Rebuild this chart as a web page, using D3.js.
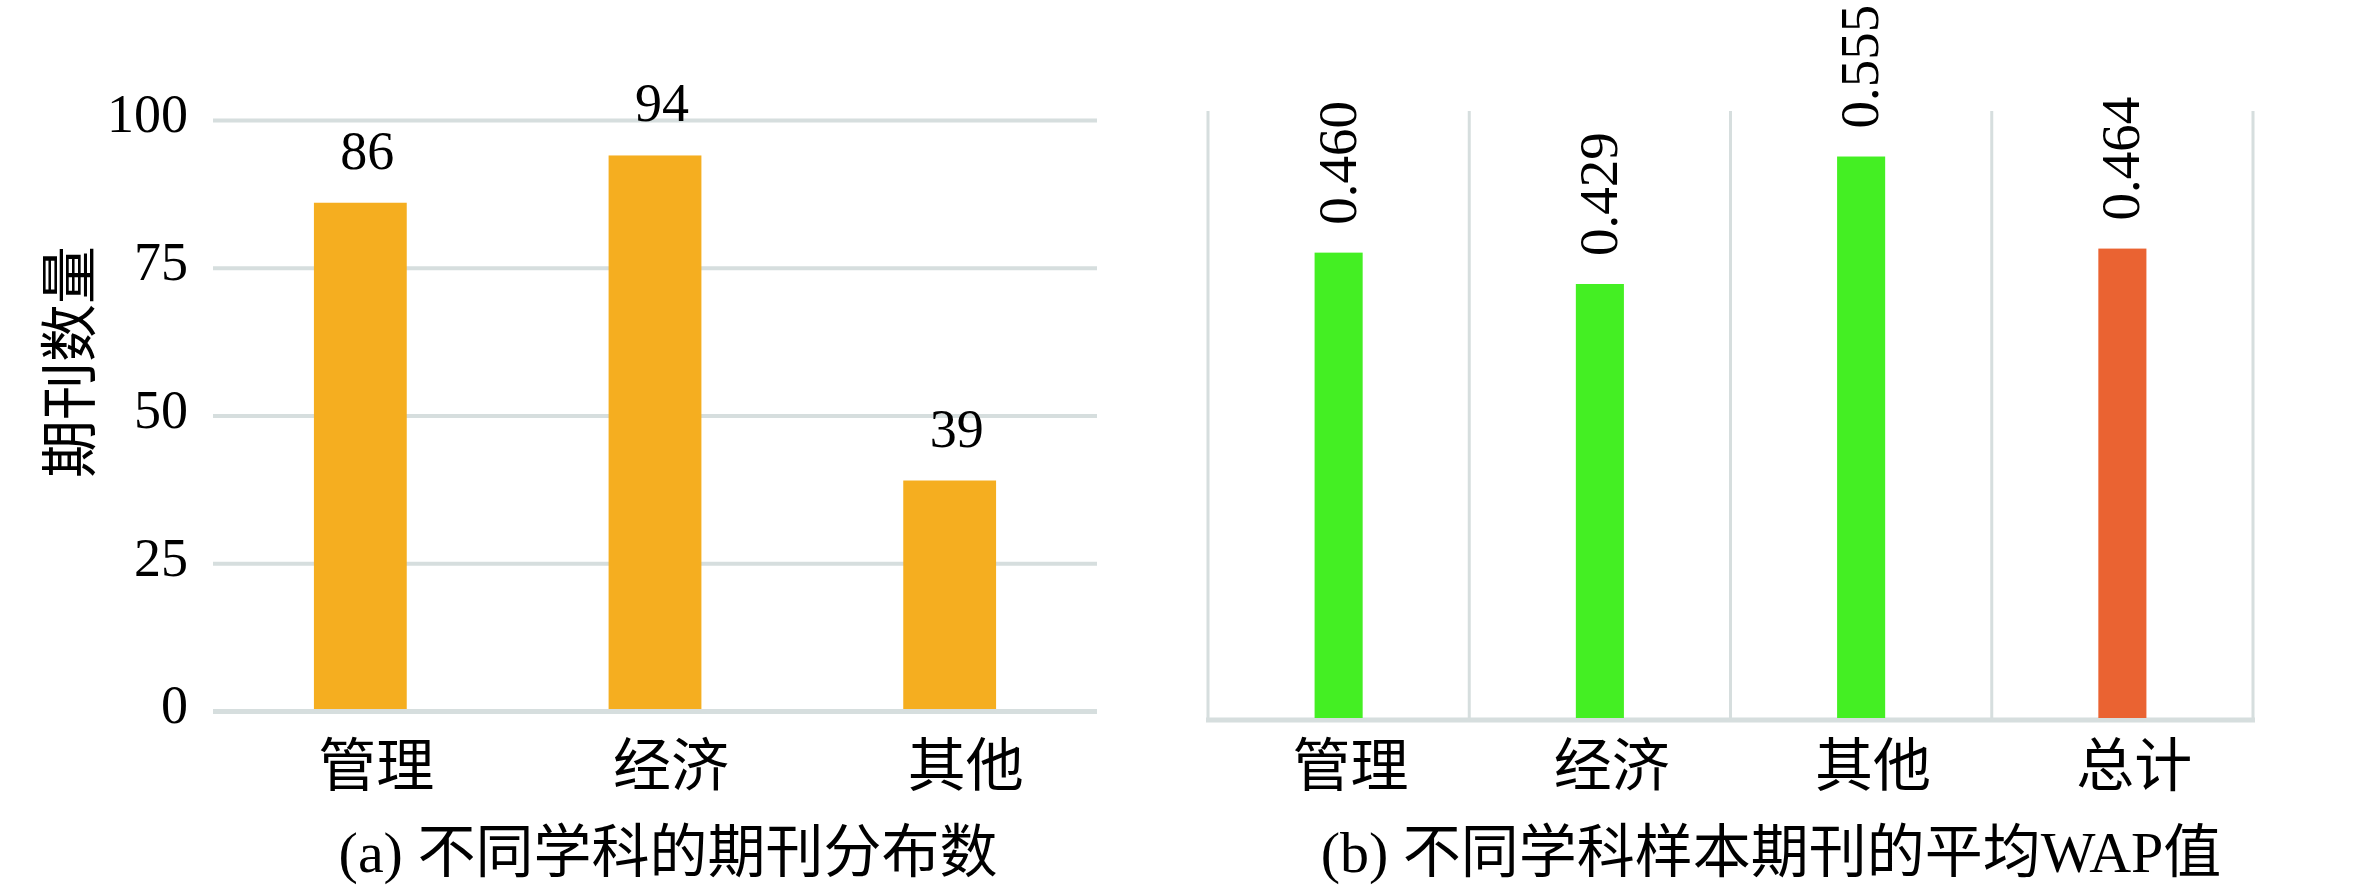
<!DOCTYPE html>
<html>
<head>
<meta charset="utf-8">
<script src="https://cdn.jsdelivr.net/npm/d3@7"></script>
<style>
  body { margin: 0; background: #fff; }
  svg text { font-family: "Liberation Serif", "Noto Sans CJK SC", serif; fill: #000; }
</style>
</head>
<body>
<div id="chart"></div>
<script>
var width = 2362;
var height = 886;

// (a) 不同学科的期刊分布数
var leftCats = ["管理", "经济", "其他"];
var leftVals = [86, 94, 39];
var leftTicks = [0, 25, 50, 75, 100];

// (b) 不同学科样本期刊的平均WAP值
var rightCats = ["管理", "经济", "其他", "总计"];
var rightVals = [0.460, 0.429, 0.555, 0.464];
var rightColors = ["#44ef23", "#44ef23", "#44ef23", "#ea6332"];

var gridColor = "#d6dede";

var svg = d3.select("#chart").append("svg")
  .attr("width", width)
  .attr("height", height)
  .attr("viewBox", "0 0 " + width + " " + height);

// ---------- left panel ----------
var xL = d3.scaleBand().domain(leftCats).range([213, 1097])
  .paddingInner(0.685).paddingOuter(0.3425);
var yL = d3.scaleLinear().domain([0, 100]).range([711, 120]);

var gridL = svg.append("g")
  .attr("transform", "translate(213,0)")
  .call(d3.axisLeft(yL).tickValues(leftTicks).tickSize(-884).tickPadding(25));
gridL.select(".domain").remove();
gridL.selectAll(".tick line")
  .attr("stroke", gridColor)
  .attr("stroke-width", function(d){ return d === 0 ? 5 : 4; });
gridL.selectAll(".tick text")
  .attr("font-size", 54)
  .attr("dy", "0.22em")
  .style("font-family", "Liberation Serif");

svg.append("g").selectAll("rect")
  .data(leftVals)
  .enter().append("rect")
  .attr("x", function(d, i){ return xL(leftCats[i]); })
  .attr("y", function(d){ return yL(d); })
  .attr("width", xL.bandwidth())
  .attr("height", function(d){ return yL(0) - yL(d) - 2; })
  .attr("fill", "#f5ae20");

svg.append("g").selectAll("text")
  .data(leftVals)
  .enter().append("text")
  .attr("x", function(d, i){ return xL(leftCats[i]) + xL.bandwidth() / 2 + 7; })
  .attr("y", function(d){ return yL(d) - 34; })
  .attr("text-anchor", "middle")
  .attr("font-size", 54)
  .text(function(d){ return d; });

svg.append("g").selectAll("text")
  .data(leftCats)
  .enter().append("text")
  .attr("x", function(d){ return xL(d) + xL.bandwidth() / 2 + 16; })
  .attr("y", 786)
  .attr("text-anchor", "middle")
  .attr("font-size", 58)
  .text(function(d){ return d; });

svg.append("text")
  .attr("transform", "translate(90,362) rotate(-90)")
  .attr("text-anchor", "middle")
  .attr("font-size", 58)
  .text("期刊数量");

svg.append("text")
  .attr("x", 668).attr("y", 872)
  .attr("text-anchor", "middle")
  .attr("font-size", 58)
  .text("(a) 不同学科的期刊分布数");

// ---------- right panel ----------
var xR = d3.scaleBand().domain(rightCats).range([1208, 2253])
  .paddingInner(0.816).paddingOuter(0.408);
var yR = d3.scaleLinear().domain([0, 0.6]).range([718, 111]);

var bounds = rightCats.map(function(d){ return xR(d) - xR.step() * 0.408; });
bounds.push(xR.range()[1]);

svg.append("g").selectAll("line")
  .data(bounds)
  .enter().append("line")
  .attr("x1", function(d){ return d; })
  .attr("x2", function(d){ return d; })
  .attr("y1", yR(0.6))
  .attr("y2", yR(0))
  .attr("stroke", gridColor)
  .attr("stroke-width", 3);

svg.append("line")
  .attr("x1", xR.range()[0] - 2).attr("x2", xR.range()[1] + 2)
  .attr("y1", yR(0) + 2).attr("y2", yR(0) + 2)
  .attr("stroke", gridColor)
  .attr("stroke-width", 5);

svg.append("g").selectAll("rect")
  .data(rightVals)
  .enter().append("rect")
  .attr("x", function(d, i){ return xR(rightCats[i]); })
  .attr("y", function(d){ return yR(d); })
  .attr("width", xR.bandwidth())
  .attr("height", function(d){ return yR(0) - yR(d); })
  .attr("fill", function(d, i){ return rightColors[i]; });

svg.append("g").selectAll("text")
  .data(rightVals)
  .enter().append("text")
  .attr("transform", function(d, i){
    var cx = xR(rightCats[i]) + xR.bandwidth() / 2 + 17;
    return "translate(" + cx + "," + (yR(d) - 28) + ") rotate(-90)";
  })
  .attr("text-anchor", "start")
  .attr("font-size", 55)
  .text(function(d){ return d3.format(".3f")(d); });

svg.append("g").selectAll("text")
  .data(rightCats)
  .enter().append("text")
  .attr("x", function(d){ return xR(d) + xR.bandwidth() / 2 + 12; })
  .attr("y", 786)
  .attr("text-anchor", "middle")
  .attr("font-size", 58)
  .text(function(d){ return d; });

svg.append("text")
  .attr("x", 1771).attr("y", 872)
  .attr("text-anchor", "middle")
  .attr("font-size", 58)
  .text("(b) 不同学科样本期刊的平均WAP值");
</script>
</body>
</html>
